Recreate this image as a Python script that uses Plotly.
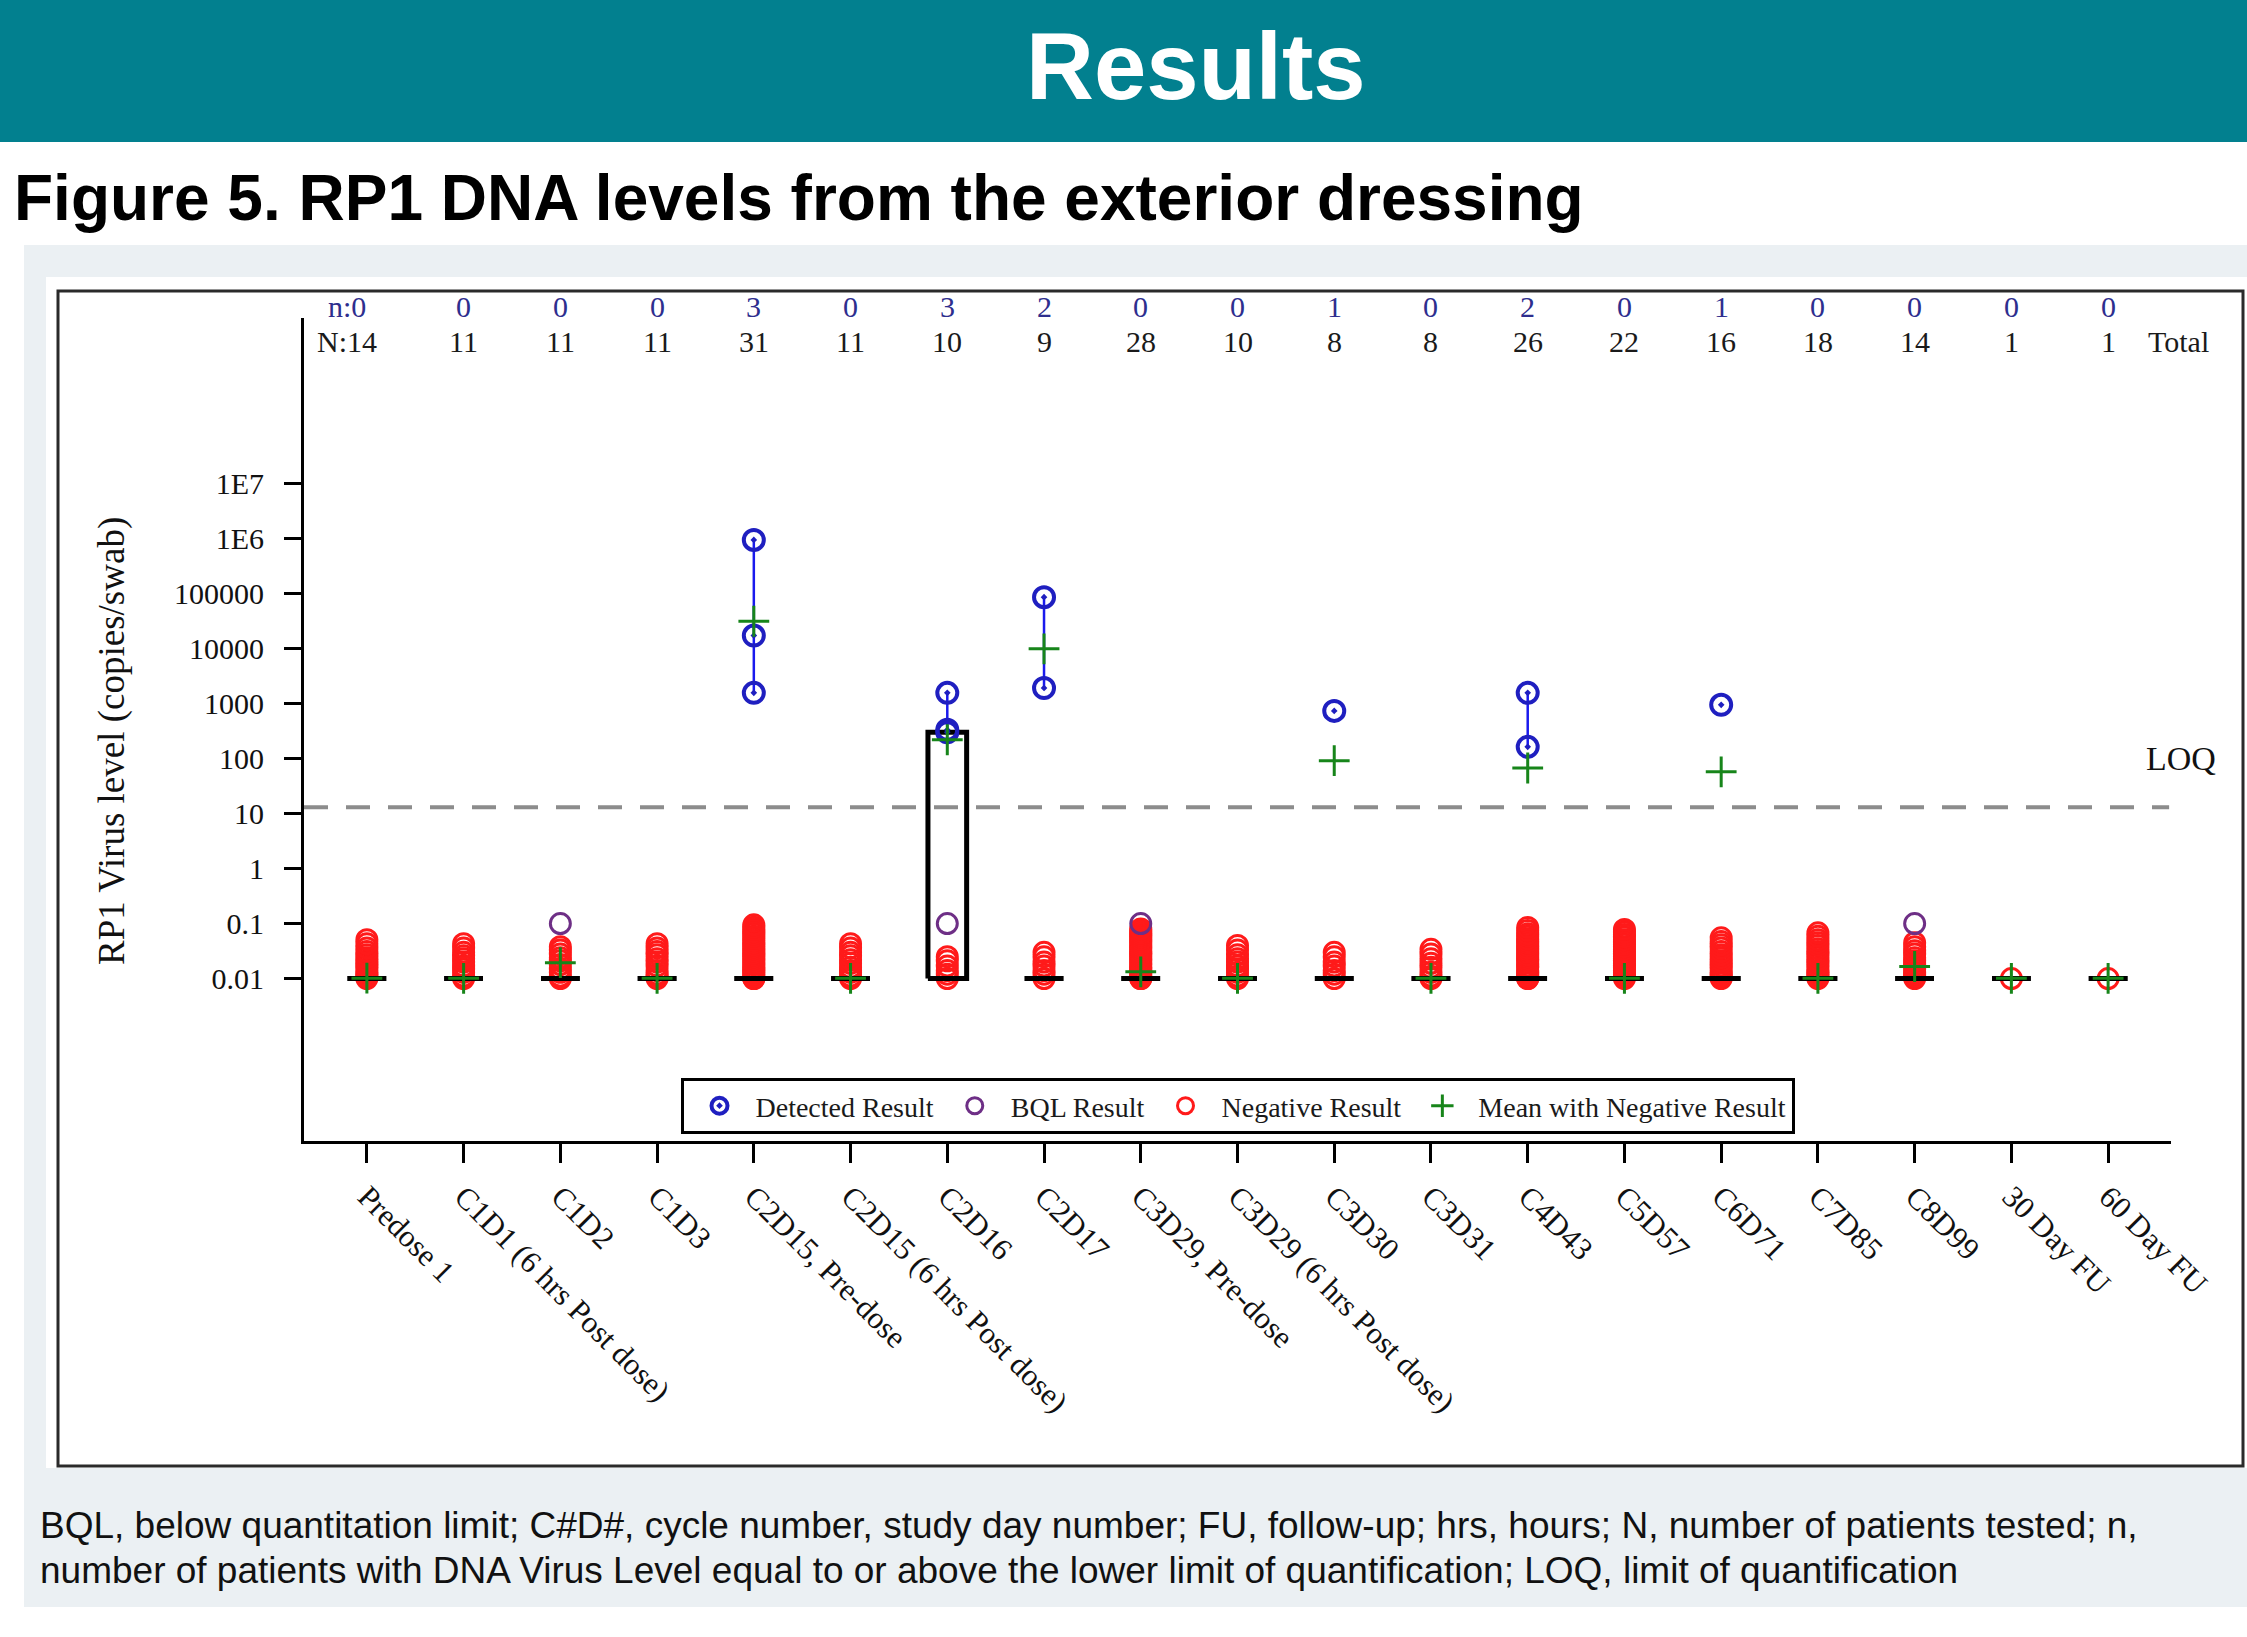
import plotly.graph_objects as go

# ---------------- data ----------------
categories = ["Predose 1", "C1D1 (6 hrs Post dose)", "C1D2", "C1D3", "C2D15, Pre-dose",
              "C2D15 (6 hrs Post dose)", "C2D16", "C2D17", "C3D29, Pre-dose",
              "C3D29 (6 hrs Post dose)", "C3D30", "C3D31", "C4D43", "C5D57", "C6D71",
              "C7D85", "C8D99", "30 Day FU", "60 Day FU"]
n_detected = [0, 0, 0, 0, 3, 0, 3, 2, 0, 0, 1, 0, 2, 0, 1, 0, 0, 0, 0]
n_tested = [14, 11, 11, 11, 31, 11, 10, 9, 28, 10, 8, 8, 26, 22, 16, 18, 14, 1, 1]

detected_values = [[], [], [], [], [930000, 17000, 1550], [], [1550, 330, 300], [85000, 1900],
                   [], [], [730], [], [1550, 162], [], [940], [], [], [], []]
bql_values = [[], [], [0.1], [], [], [], [0.1], [], [0.1], [], [], [], [], [], [], [], [0.1], [], []]
negative_values = [
    [0.010, 0.011, 0.012, 0.013, 0.015, 0.017, 0.019, 0.021, 0.024, 0.027, 0.031, 0.036, 0.043, 0.051],
    [0.010, 0.011, 0.013, 0.015, 0.017, 0.020, 0.023, 0.026, 0.030, 0.036, 0.043],
    [0.010, 0.011, 0.013, 0.015, 0.018, 0.021, 0.024, 0.028, 0.033, 0.038],
    [0.010, 0.011, 0.012, 0.014, 0.017, 0.020, 0.023, 0.027, 0.031, 0.036, 0.043],
    [0.010, 0.010, 0.011, 0.012, 0.013, 0.014, 0.015, 0.016, 0.018, 0.019, 0.021, 0.023, 0.025, 0.027,
     0.029, 0.032, 0.035, 0.038, 0.041, 0.045, 0.049, 0.054, 0.059, 0.065, 0.071, 0.078, 0.086, 0.095],
    [0.010, 0.011, 0.013, 0.014, 0.016, 0.019, 0.022, 0.026, 0.030, 0.036, 0.043],
    [0.010, 0.012, 0.014, 0.017, 0.021, 0.025],
    [0.010, 0.012, 0.014, 0.017, 0.020, 0.025, 0.030],
    [0.010, 0.010, 0.011, 0.012, 0.013, 0.014, 0.015, 0.016, 0.018, 0.019, 0.021, 0.023, 0.025, 0.027,
     0.029, 0.031, 0.034, 0.037, 0.040, 0.044, 0.048, 0.052, 0.057, 0.062, 0.067, 0.073, 0.080],
    [0.010, 0.011, 0.013, 0.015, 0.017, 0.020, 0.023, 0.027, 0.033, 0.040],
    [0.010, 0.012, 0.014, 0.017, 0.020, 0.025, 0.030],
    [0.010, 0.011, 0.013, 0.016, 0.019, 0.023, 0.028, 0.034],
    [0.010, 0.010, 0.011, 0.012, 0.013, 0.014, 0.016, 0.017, 0.019, 0.021, 0.023, 0.025, 0.027, 0.030,
     0.033, 0.036, 0.040, 0.044, 0.048, 0.053, 0.059, 0.065, 0.075, 0.085],
    [0.010, 0.011, 0.012, 0.013, 0.014, 0.016, 0.017, 0.019, 0.021, 0.023, 0.025, 0.028, 0.031, 0.034,
     0.038, 0.042, 0.046, 0.051, 0.057, 0.063, 0.070, 0.078],
    [0.010, 0.011, 0.012, 0.013, 0.015, 0.017, 0.019, 0.021, 0.024, 0.027, 0.031, 0.036, 0.041, 0.047, 0.055],
    [0.010, 0.011, 0.012, 0.013, 0.014, 0.016, 0.018, 0.020, 0.022, 0.025, 0.028, 0.031, 0.035, 0.040,
     0.045, 0.051, 0.059, 0.068],
    [0.010, 0.011, 0.012, 0.013, 0.015, 0.017, 0.019, 0.021, 0.024, 0.028, 0.032, 0.038, 0.045],
    [0.010],
    [0.010],
]
mean_values = [0.0102, 0.0101, 0.0195, 0.0101, 31000, 0.0101, 218, 9800, 0.0133, 0.0101,
               91, 0.0101, 67, 0.0101, 57, 0.0101, 0.0166, 0.0101, 0.0101]
box_q1 = [0.01, 0.01, 0.01, 0.01, 0.01, 0.01, 0.01, 0.01, 0.01, 0.01,
          0.01, 0.01, 0.01, 0.01, 0.01, 0.01, 0.01, 0.01, 0.01]
box_median = [0.01, 0.01, 0.01, 0.01, 0.01, 0.01, 0.01, 0.01, 0.01, 0.01,
              0.01, 0.01, 0.01, 0.01, 0.01, 0.01, 0.01, 0.01, 0.01]
box_q3 = [0.01, 0.01, 0.01, 0.01, 0.01, 0.01, 300, 0.01, 0.01, 0.01,
          0.01, 0.01, 0.01, 0.01, 0.01, 0.01, 0.01, 0.01, 0.01]
loq = 13
y_tickvals = [0.01, 0.1, 1, 10, 100, 1000, 10000, 100000, 1e6, 1e7]
y_ticktext = ["0.01", "0.1", "1", "10", "100", "1000", "10000", "100000", "1E6", "1E7"]

# ---------------- layout geometry ----------------
W, H = 2247, 1637
PL, PR, PT, PB = 304, 2171, 318, 1141   # plot area in pixels


def pxx(x):
    return (x - PL) / (PR - PL)


def pxy(y):
    return (PB - y) / (PB - PT)


SERIF = "Liberation Serif, Times New Roman, serif"
SANS = "Liberation Sans, Arial, sans-serif"
BLUE = "#1f1fc0"
PURPLE = "#6e2f86"
RED = "#ff1a1a"
GREEN = "#17851a"

fig = go.Figure()

# negatives
nx, ny = [], []
for i, vals in enumerate(negative_values):
    for v in vals:
        nx.append(i)
        ny.append(v)
fig.add_trace(go.Scatter(x=nx, y=ny, mode="markers", name="Negative Result", legendrank=3,
                         marker=dict(symbol="circle-open", size=20, color=RED, line=dict(width=3, color=RED))))

# BQL
bx, by = [], []
for i, vals in enumerate(bql_values):
    for v in vals:
        bx.append(i)
        by.append(v)
fig.add_trace(go.Scatter(x=bx, y=by, mode="markers", name="BQL Result", legendrank=2,
                         marker=dict(symbol="circle-open", size=20, color=PURPLE, line=dict(width=3, color=PURPLE))))

# box (q1-q3 rectangle + median)
hw = 0.2
kx, ky = [], []
for i in range(len(categories)):
    kx += [i - hw, i + hw, i + hw, i - hw, i - hw, None, i - hw, i + hw, None]
    ky += [box_q1[i], box_q1[i], box_q3[i], box_q3[i], box_q1[i], None, box_median[i], box_median[i], None]
fig.add_trace(go.Scatter(x=kx, y=ky, mode="lines", showlegend=False, hoverinfo="skip",
                         line=dict(color="black", width=5)))

# detected range lines
lx, ly = [], []
for i, vals in enumerate(detected_values):
    if len(vals) >= 2:
        lx += [i, i, None]
        ly += [min(vals), max(vals), None]
fig.add_trace(go.Scatter(x=lx, y=ly, mode="lines", showlegend=False, hoverinfo="skip",
                         line=dict(color="#1a1aee", width=2.5)))

# detected points
dx, dy = [], []
for i, vals in enumerate(detected_values):
    for v in vals:
        dx.append(i)
        dy.append(v)
fig.add_trace(go.Scatter(x=dx, y=dy, mode="markers", name="Detected Result", legendrank=1,
                         marker=dict(symbol="circle-open-dot", size=20, color=BLUE, line=dict(width=4, color=BLUE))))

# mean
fig.add_trace(go.Scatter(x=list(range(len(categories))), y=mean_values, mode="markers",
                         name="Mean with Negative Result", legendrank=4,
                         marker=dict(symbol="cross-thin", size=22, color=GREEN, line=dict(width=3, color=GREEN))))

# ---------------- shapes ----------------
shapes = [
    dict(type="rect", xref="paper", yref="paper", x0=pxx(0), x1=pxx(W), y0=pxy(0), y1=pxy(142),
         fillcolor="#02808f", line=dict(width=0), layer="below"),
    dict(type="rect", xref="paper", yref="paper", x0=pxx(24), x1=pxx(W), y0=pxy(245), y1=pxy(1607),
         fillcolor="#ebf0f3", line=dict(width=0), layer="below"),
    dict(type="rect", xref="paper", yref="paper", x0=pxx(46), x1=pxx(W), y0=pxy(277), y1=pxy(1468),
         fillcolor="white", line=dict(width=0), layer="below"),
    dict(type="rect", xref="paper", yref="paper", x0=pxx(58), x1=pxx(2243), y0=pxy(291), y1=pxy(1466),
         fillcolor="rgba(0,0,0,0)", line=dict(width=3, color="#2a2a2a"), layer="below"),
    dict(type="line", xref="paper", yref="y", x0=0, x1=0.999, y0=loq, y1=loq,
         line=dict(color="#8c8c8c", width=4, dash="24px,18px"), layer="above"),
]

# ---------------- annotations ----------------
ann = []
ann.append(dict(text="<b>Results</b>", xref="paper", yref="paper", x=pxx(1196), y=pxy(66),
                xanchor="center", yanchor="middle", showarrow=False,
                font=dict(family=SANS, size=94, color="white")))
ann.append(dict(text="<b>Figure 5. RP1 DNA levels from the exterior dressing</b>", xref="paper", yref="paper",
                x=pxx(12), y=pxy(198), xanchor="left", yanchor="middle", showarrow=False,
                font=dict(family=SANS, size=64, color="black")))
ann.append(dict(text="BQL, below quantitation limit; C#D#, cycle number, study day number; FU, follow-up; "
                     "hrs, hours; N, number of patients tested; n,",
                xref="paper", yref="paper", x=pxx(38), y=pxy(1525), xanchor="left", yanchor="middle",
                showarrow=False, font=dict(family=SANS, size=37, color="#111111")))
ann.append(dict(text="number of patients with DNA Virus Level equal to or above the lower limit of "
                     "quantification; LOQ, limit of quantification",
                xref="paper", yref="paper", x=pxx(38), y=pxy(1570), xanchor="left", yanchor="middle",
                showarrow=False, font=dict(family=SANS, size=37, color="#111111")))
ann.append(dict(text="RP1 Virus level (copies/swab)", xref="paper", yref="paper", x=pxx(112), y=pxy(741),
                xanchor="center", yanchor="middle", textangle=-90, showarrow=False,
                font=dict(family=SERIF, size=37, color="#111111")))
ann.append(dict(text="LOQ", xref="paper", yref="paper", x=pxx(2181), y=pxy(758),
                xanchor="center", yanchor="middle", showarrow=False,
                font=dict(family=SERIF, size=34, color="#111111")))
for i, cat in enumerate(categories):
    ntxt = ("n:" if i == 0 else "") + str(n_detected[i])
    Ntxt = ("N:" if i == 0 else "") + str(n_tested[i])
    shift = -20 if i == 0 else 0
    ann.append(dict(text=ntxt, xref="x", yref="paper", x=i, y=pxy(306), xshift=shift,
                    xanchor="center", yanchor="middle", showarrow=False,
                    font=dict(family=SERIF, size=30, color="#2e2e8e")))
    ann.append(dict(text=Ntxt, xref="x", yref="paper", x=i, y=pxy(341), xshift=shift,
                    xanchor="center", yanchor="middle", showarrow=False,
                    font=dict(family=SERIF, size=30, color="#1a1a1a")))
ann.append(dict(text="Total", xref="paper", yref="paper", x=pxx(2178), y=pxy(341),
                xanchor="center", yanchor="middle", showarrow=False,
                font=dict(family=SERIF, size=30, color="#1a1a1a")))

fig.update_layout(
    width=W, height=H,
    margin=dict(l=PL, r=W - PR, t=PT, b=H - PB, pad=0),
    paper_bgcolor="white", plot_bgcolor="rgba(0,0,0,0)",
    shapes=shapes, annotations=ann,
    showlegend=True,
    legend=dict(orientation="h", x=0.5, xanchor="center", y=pxy(1106), yanchor="middle",
                bgcolor="white", bordercolor="black", borderwidth=3,
                font=dict(family=SERIF, size=28, color="#1a1a1a"), itemwidth=62),
    xaxis=dict(range=[-0.65, len(categories) - 1 + 0.65], tickmode="array",
               tickvals=list(range(len(categories))), ticktext=categories, tickangle=45,
               showgrid=False, zeroline=False, showline=True, linecolor="black", linewidth=3,
               ticks="outside", ticklen=19, tickwidth=3, tickcolor="black",
               ticklabelstandoff=3,
               tickfont=dict(family=SERIF, size=31, color="#111111")),
    yaxis=dict(type="log", range=[-4.95, 10], tickmode="array", tickvals=y_tickvals, ticktext=y_ticktext,
               showgrid=False, zeroline=False, showline=True, linecolor="black", linewidth=3,
               ticks="outside", ticklen=17, tickwidth=3, tickcolor="black",
               ticklabelstandoff=14,
               tickfont=dict(family=SERIF, size=30, color="#111111")),
)

fig.write_html("out.html", config={"displayModeBar": False},
               post_script="document.body.style.margin='0px';document.body.style.overflow='hidden';")
